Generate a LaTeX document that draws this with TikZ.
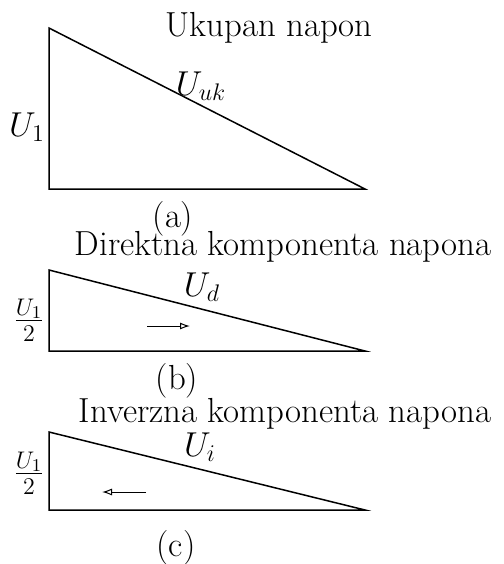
\documentclass[tikz,border=0pt]{standalone}
\usepackage{amsmath}
\usepackage{tikz}
\usetikzlibrary{arrows.meta,positioning}

\begin{document}
\begin{tikzpicture}[x=0.5pt, y=-0.5pt, font=\fontsize{17.4}{21}\selectfont, every node/.style={inner sep=1pt}]
        \tikzset{
            tri/.style={line width=0.75pt, line join=miter},
            lbl/.style={anchor=center},
            arr/.style={-{Latex[open, length=5pt, width=3.5pt]}, line width=0.5pt}
        }
        \useasboundingbox (0,0) rectangle (504,564);
        % (a) ukupan napon
        \node[lbl] (tA) at (269,28) {Ukupan napon};
        \draw[tri] (49,28) -- (49,189) -- (365,189) -- cycle;
        \node[lbl] (uk) at (201,86) {$U_{uk}$};
        \node[lbl] (u1a) at (27,127) {$U_1$};
        \node[lbl] (capA) at (173,219) {(a)};
        % (b) direktna komponenta
        \node[lbl] (tB) at (283,247) {Direktna komponenta napona};
        \draw[tri] (49,270) -- (49,351) -- (365,351) -- cycle;
        \node[lbl] (ud) at (202,287) {$U_d$};
        \node[lbl] (u1b) at (29,320) {$\frac{U_1}{2}$};
        \coordinate (b1) at (147,326);
        \coordinate (b2) at (190,326);
        \draw[arr] (b1) -- (b2);
        \node[lbl] (capB) at (177,381) {(b)};
        % (c) inverzna komponenta
        \node[lbl] (tC) at (285,414) {Inverzna komponenta napona};
        \draw[tri] (49,432) -- (49,510) -- (365,510) -- cycle;
        \node[lbl] (ui) at (200,447) {$U_i$};
        \node[lbl] (u1c) at (29,473) {$\frac{U_1}{2}$};
        \coordinate (c1) at (146,492);
        \coordinate (c2) at (102,492);
        \draw[arr] (c1) -- (c2);
        \node[lbl] (capC) at (176,548) {(c)};
    \end{tikzpicture}
\end{document}
